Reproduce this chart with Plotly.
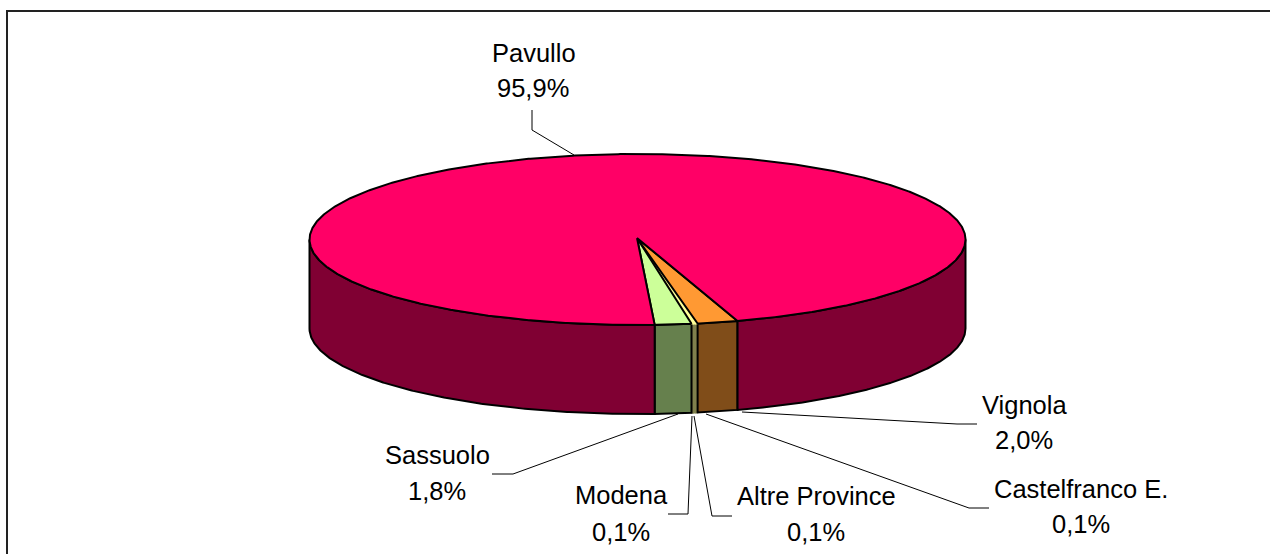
import numpy as np
import plotly.graph_objects as go

categories = ["Sassuolo", "Modena", "Altre Province", "Castelfranco E.", "Vignola", "Pavullo"]
values = [1.8, 0.1, 0.1, 0.1, 2.0, 95.9]
top_colors = ["#CCFF99", "#FFFF99", "#FFFF99", "#FFFF99", "#FF9933", "#FF0066"]
side_colors = ["#66804D", "#80804D", "#80804D", "#80804D", "#804D19", "#800033"]
outlined = [True, False, False, False, True, True]

# pixel geometry of the drawing (the axes map 1:1 onto the page)
W, H = 1270, 554
CX, CY, RX, RY, DEPTH = 637.5, 239.5, 328, 85.5, 89
START_DEG = 3.0

# label text positions: name line, value line (centre x, centre y)
label_pos = {
    "Pavullo": (534, 53, 533, 88),
    "Vignola": (1024, 405, 1024, 440),
    "Castelfranco E.": (1081, 489, 1081, 524),
    "Altre Province": (816, 496, 816, 532),
    "Modena": (621, 495, 621, 532),
    "Sassuolo": (437, 455, 437, 491),
}
leaders = {
    "Pavullo": ([532, 532, 574], [110, 130, 155]),
    "Vignola": ([742, 957, 977], [412, 424, 424]),
    "Castelfranco E.": ([706, 969, 989], [414, 508, 508]),
    "Altre Province": ([694, 712, 732], [416, 516, 516]),
    "Modena": ([692, 688, 668], [416, 514, 514]),
    "Sassuolo": ([678, 513, 492], [414, 474, 474]),
}


def ell(deg):
    t = np.radians(deg)
    return CX + RX * np.sin(t), CY + RY * np.cos(t)


fig = go.Figure()


def poly(xs, ys, fill, has_outline):
    line = dict(color="black", width=2) if has_outline else dict(color=fill, width=1.5)
    fig.add_trace(go.Scatter(x=xs, y=ys, mode="lines", fill="toself", fillcolor=fill,
                             line=line, hoverinfo="skip", showlegend=False))


edges = START_DEG + np.concatenate([[0], np.cumsum(values)]) * 3.6
order = sorted(range(len(categories)), key=lambda k: outlined[k])

# sides: only the part of each slice on the front half of the cylinder
for i in order:
    a0, a1 = edges[i], edges[i + 1]
    for lo, hi in [(a0, min(a1, 90)), (max(a0, 270), a1)]:
        if hi <= lo:
            continue
        th = np.linspace(lo, hi, max(int((hi - lo) * 3), 2))
        x, y = ell(th)
        poly(np.r_[x, x[::-1], x[0]], np.r_[y, y[::-1] + DEPTH, y[0]], side_colors[i], outlined[i])

# tops
for i in order:
    a0, a1 = edges[i], edges[i + 1]
    th = np.linspace(a0, a1, max(int((a1 - a0) * 3), 2))
    x, y = ell(th)
    poly(np.r_[CX - 0.5, x, CX - 0.5], np.r_[CY - 1.5, y, CY - 1.5], top_colors[i], outlined[i])

# leader lines
for c in categories:
    lx, ly = leaders[c]
    fig.add_trace(go.Scatter(x=lx, y=ly, mode="lines", line=dict(color="black", width=1),
                             hoverinfo="skip", showlegend=False))

# labels
font = dict(family="Liberation Sans, Arial, sans-serif", size=25.5, color="black")
for c, v in zip(categories, values):
    x1, y1, x2, y2 = label_pos[c]
    vt = f"{v:.1f}".replace(".", ",") + "%"
    fig.add_annotation(x=x1, y=y1, text=c, showarrow=False, font=font, xanchor="center", yanchor="middle")
    fig.add_annotation(x=x2, y=y2, text=vt, showarrow=False, font=font, xanchor="center", yanchor="middle")

# chart frame (runs off the right and bottom of the page)
fig.add_shape(type="rect", x0=7, y0=11, x1=1300, y1=600, line=dict(color="#222222", width=2))

fig.update_layout(
    width=W, height=H, margin=dict(l=0, r=0, t=0, b=0), autosize=False,
    paper_bgcolor="white", plot_bgcolor="white", showlegend=False,
    xaxis=dict(range=[0, W], visible=False, fixedrange=True),
    yaxis=dict(range=[H, 0], visible=False, fixedrange=True),
)
fig.write_html(
    "out.html",
    config={"displayModeBar": False},
    post_script="document.body.style.margin='0';document.documentElement.style.overflow='hidden';",
)
